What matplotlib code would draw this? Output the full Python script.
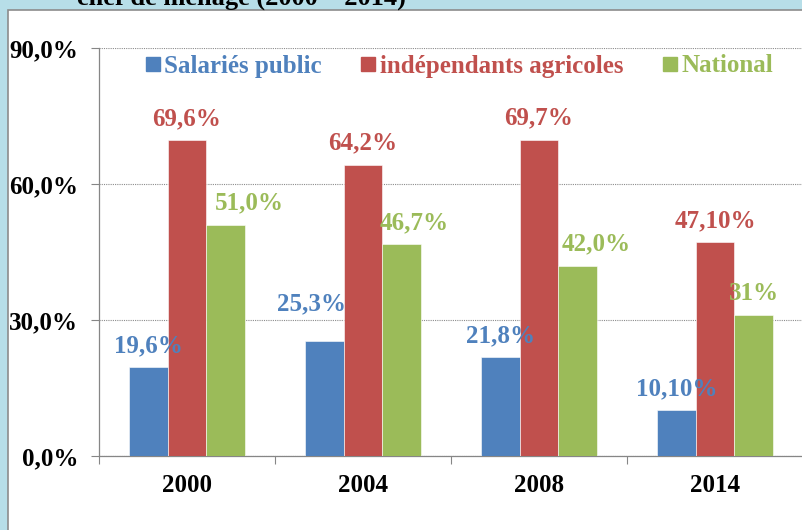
import numpy as np
import matplotlib
matplotlib.use('Agg')
import matplotlib.pyplot as plt
from matplotlib.patches import Rectangle
from matplotlib.lines import Line2D

# data
years = ['2000', '2004', '2008', '2014']
salaries_public = [19.6, 25.3, 21.8, 10.1]
independants_agricoles = [69.6, 64.2, 69.7, 47.1]
national = [51.0, 46.7, 42.0, 31.0]

# the labels as they are written on the chart
salaries_labels = ['19,6%', '25,3%', '21,8%', '10,10%']
independants_labels = ['69,6%', '64,2%', '69,7%', '47,10%']
national_labels = ['51,0%', '46,7%', '42,0%', '31%']

series_names = ['Salariés public', 'indépendants agricoles', 'National']
colours = ['#4F81BD', '#C0504D', '#9BBB59']

y_ticks = [0, 30, 60, 90]
y_tick_labels = ['0,0%', '30,0%', '60,0%', '90,0%']

plt.rcParams['font.family'] = ['Liberation Serif', 'DejaVu Serif']
plt.rcParams['font.weight'] = 'bold'

fig = plt.figure(figsize=(8.03, 5.30), dpi=100, facecolor='#B7DEE8')

# white chart panel on the light blue slide
panel = Rectangle((8 / 803, -0.01), 1.0, 1 - 10 / 530 + 0.01, transform=fig.transFigure,
                  facecolor='white', edgecolor='#8c8c8c', linewidth=1.2, zorder=0)
fig.add_artist(panel)

# title cut off at the top of the picture (as in the original)
fig.text(77 / 803, 1 - 5 / 530, 'chef de ménage (2000 – 2014)', fontsize=19,
         fontweight='bold', va='baseline', ha='left', color='black')

ax = fig.add_axes([99 / 803, 1 - 456 / 530, 1 - 99 / 803, (456 - 48) / 530])
ax.set_facecolor('none')

x = np.arange(len(years))
width = 0.22
all_values = [salaries_public, independants_agricoles, national]
all_labels = [salaries_labels, independants_labels, national_labels]

# label nudges in points (some labels were moved by hand on the original)
label_dx = [[0, -9, 0, 0], [0, 0, 0, 0], [17, 9, 13, 0]]
label_dy = [[0, 11, 0, 0], [0, 0, 0, 0], [0, 0, 0, 0]]

for i, values in enumerate(all_values):
    positions = x + (i - 1) * width
    ax.bar(positions, values, width, color=colours[i], edgecolor='white',
           linewidth=0.4, zorder=3)
    for j, v in enumerate(values):
        ax.annotate(all_labels[i][j], (positions[j], v),
                    xytext=(label_dx[i][j], 11 + label_dy[i][j]), textcoords='offset points',
                    ha='center', va='baseline', fontsize=18, fontweight='bold',
                    color=colours[i], zorder=4)

# axes setup
ax.set_xlim(-0.5, len(years) - 0.5)
ax.set_ylim(0, 90)
ax.set_yticks(y_ticks)
ax.set_yticklabels(y_tick_labels, fontsize=18, fontweight='bold')
ax.tick_params(axis='y', length=6, width=0.8, color='#868686', pad=9)

ax.set_xticks(x)
ax.set_xticklabels(years, fontsize=18, fontweight='bold')
ax.tick_params(axis='x', which='major', length=0, pad=13)
ax.set_xticks(np.arange(-0.5, len(years), 1.0), minor=True)
ax.tick_params(axis='x', which='minor', length=6, width=0.8, color='#868686')

ax.grid(axis='y', linestyle=(0, (1, 1)), color='#8c8c8c', linewidth=0.8, zorder=0)
for side in ['top', 'right']:
    ax.spines[side].set_visible(False)
for side in ['left', 'bottom']:
    ax.spines[side].set_color('#868686')
    ax.spines[side].set_linewidth(0.9)

# legend with small squares and coloured text
handles = [Line2D([], [], marker='s', linestyle='none', markersize=10,
                  markerfacecolor=c, markeredgecolor=c) for c in colours]
ax.legend(handles, series_names, ncol=3, loc='center left',
          bbox_to_anchor=((144 - 99) / 704, (456 - 66) / 408), frameon=False,
          prop={'size': 18, 'weight': 'bold'}, labelcolor=colours,
          handlelength=0.7, handletextpad=0.12, columnspacing=1.5,
          borderpad=0, borderaxespad=0)

plt.savefig('out.png', dpi=100, facecolor=fig.get_facecolor())
